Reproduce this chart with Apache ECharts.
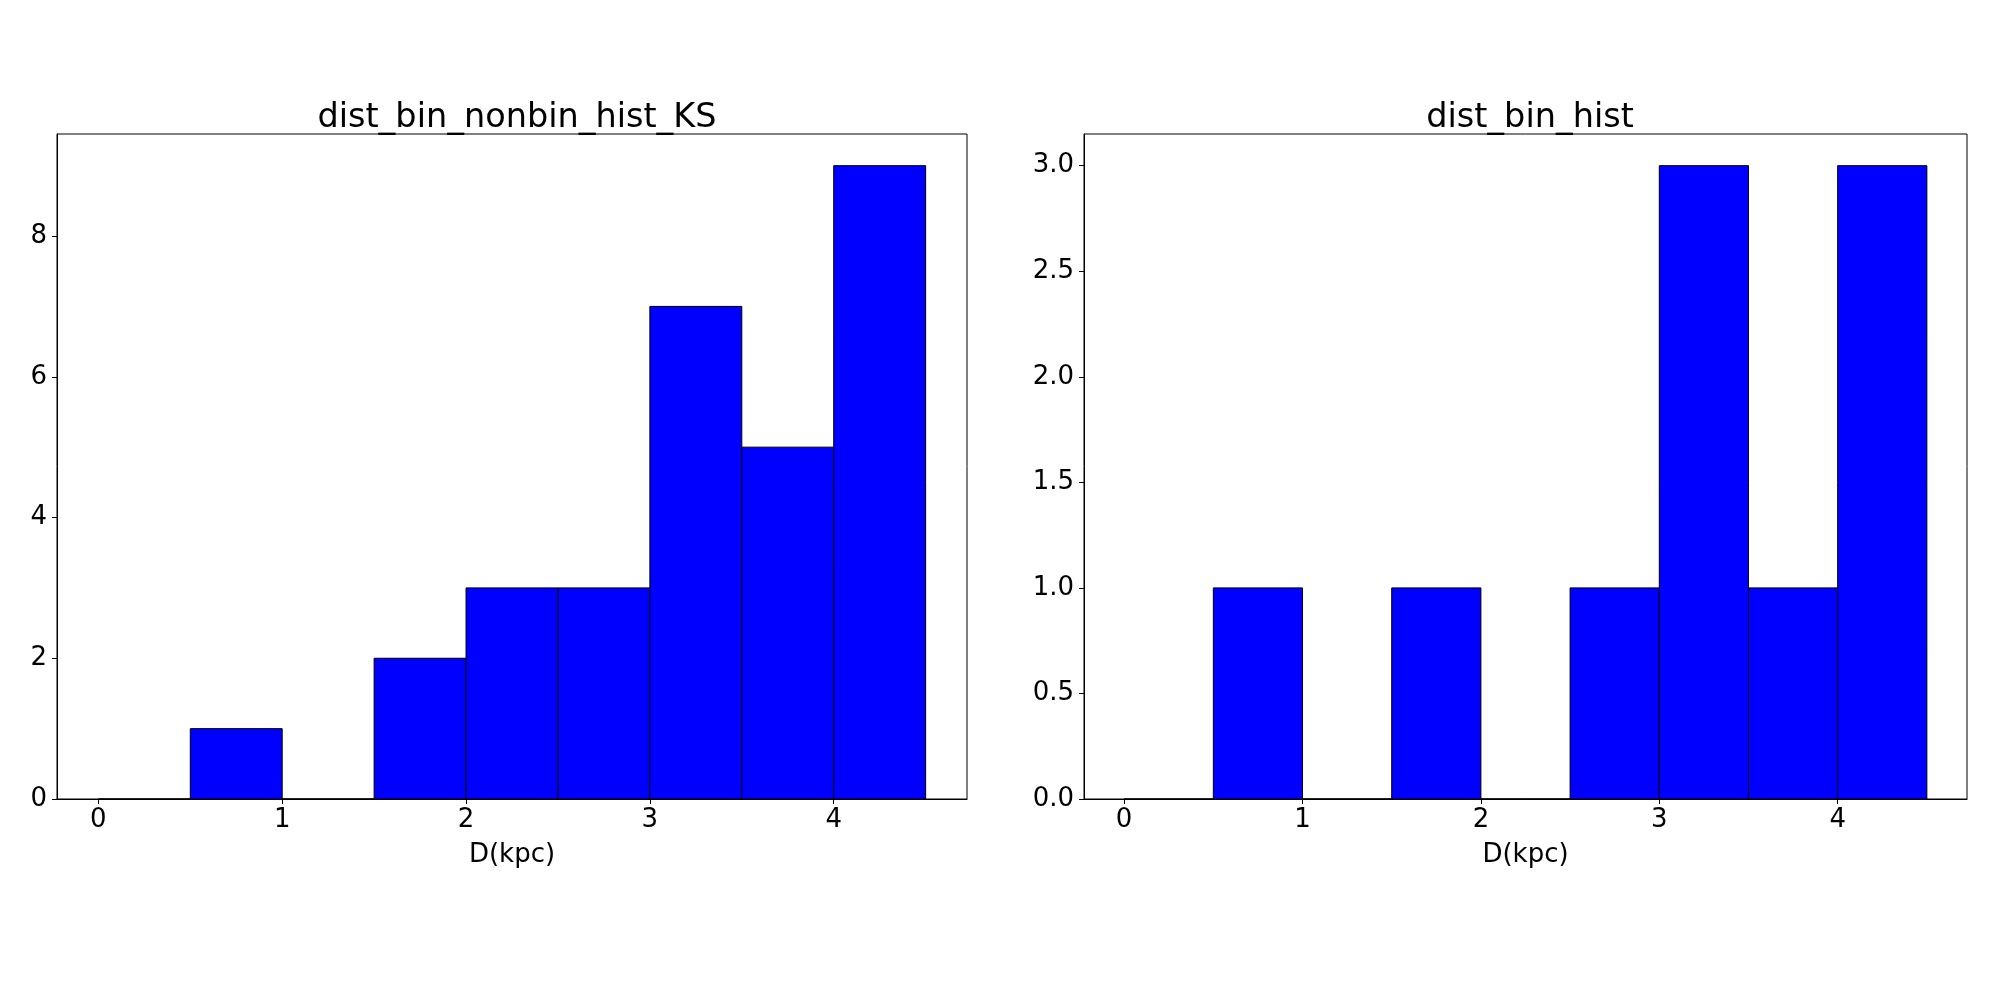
<!DOCTYPE html>
<html>
<head>
<meta charset="utf-8">
<style>
  html, body { margin: 0; padding: 0; background: #fff; }
  #chart { width: 2000px; height: 1000px; }
</style>
<script src="https://cdn.jsdelivr.net/npm/echarts@6/dist/echarts.min.js"></script>
</head>
<body>
<div id="chart"></div>
<script>
// histogram bins (width 0.5, from 0 to 4.5)
const binEdges = [0, 0.5, 1, 1.5, 2, 2.5, 3, 3.5, 4, 4.5]
const countsKS = [0, 1, 0, 2, 3, 3, 7, 5, 9]
const countsBin = [0, 1, 0, 1, 0, 1, 3, 1, 3]
const titles = ['dist_bin_nonbin_hist_KS', 'dist_bin_hist']
const xTicks = [0, 1, 2, 3, 4]
const yTicksKS = [0, 2, 4, 6, 8]
const yTicksBin = [0, 0.5, 1, 1.5, 2, 2.5, 3]

const font = 'DejaVu Sans'

function toBins(counts) {
  return counts.map((c, i) => [binEdges[i], binEdges[i + 1], c])
}

function renderBar(params, api) {
  const p0 = api.coord([api.value(0), api.value(2)])
  const p1 = api.coord([api.value(1), 0])
  return {
    type: 'rect',
    shape: { x: p0[0], y: p0[1], width: p1[0] - p0[0], height: p1[1] - p0[1] },
    style: { fill: '#0000ff', stroke: '#000', lineWidth: 1 },
  }
}

function xAxisOf(idx) {
  return {
    type: 'value',
    gridIndex: idx,
    min: -0.225,
    max: 4.725,
    splitLine: { show: false },
    axisLine: { onZero: false, lineStyle: { color: '#000', width: 1 } },
    axisTick: { customValues: xTicks, length: 5, lineStyle: { color: '#000' } },
    axisLabel: { customValues: xTicks, color: '#000', fontSize: 26, fontFamily: font, margin: 8 },
    name: 'D(kpc)',
    nameLocation: 'middle',
    nameGap: 43,
    nameTextStyle: { color: '#000', fontSize: 26, fontFamily: font },
  }
}

function yAxisOf(idx, max, ticks, digits) {
  return {
    type: 'value',
    gridIndex: idx,
    min: 0,
    max: max,
    splitLine: { show: false },
    axisLine: { show: true, onZero: false, lineStyle: { color: '#000', width: 1 } },
    axisTick: { show: true, customValues: ticks, length: 5, lineStyle: { color: '#000' } },
    axisLabel: {
      customValues: ticks,
      color: '#000',
      fontSize: 26,
      fontFamily: font,
      margin: 10,
      formatter: v => v.toFixed(digits),
    },
  }
}

const chart = echarts.init(document.getElementById('chart'), null, { renderer: 'canvas' })

chart.setOption({
  animation: false,
  backgroundColor: '#fff',
  title: [
    { text: titles[0], left: 512, top: 96, textAlign: 'center',
      textStyle: { fontSize: 33.5, fontWeight: 'normal', color: '#000', fontFamily: font } },
    { text: titles[1], left: 1525, top: 96, textAlign: 'center',
      textStyle: { fontSize: 33.5, fontWeight: 'normal', color: '#000', fontFamily: font } },
  ],
  grid: [
    { left: 57, top: 134, width: 910, height: 665, show: true, borderColor: '#000', borderWidth: 1 },
    { left: 1084, top: 134, width: 883, height: 665, show: true, borderColor: '#000', borderWidth: 1 },
  ],
  xAxis: [xAxisOf(0), xAxisOf(1)],
  yAxis: [yAxisOf(0, 9.45, yTicksKS, 0), yAxisOf(1, 3.15, yTicksBin, 1)],
  series: [
    { type: 'custom', xAxisIndex: 0, yAxisIndex: 0, renderItem: renderBar,
      encode: { x: [0, 1], y: 2 }, data: toBins(countsKS) },
    { type: 'custom', xAxisIndex: 1, yAxisIndex: 1, renderItem: renderBar,
      encode: { x: [0, 1], y: 2 }, data: toBins(countsBin) },
  ],
})

window.addEventListener('resize', () => chart && chart.resize())
</script>
</body>
</html>
